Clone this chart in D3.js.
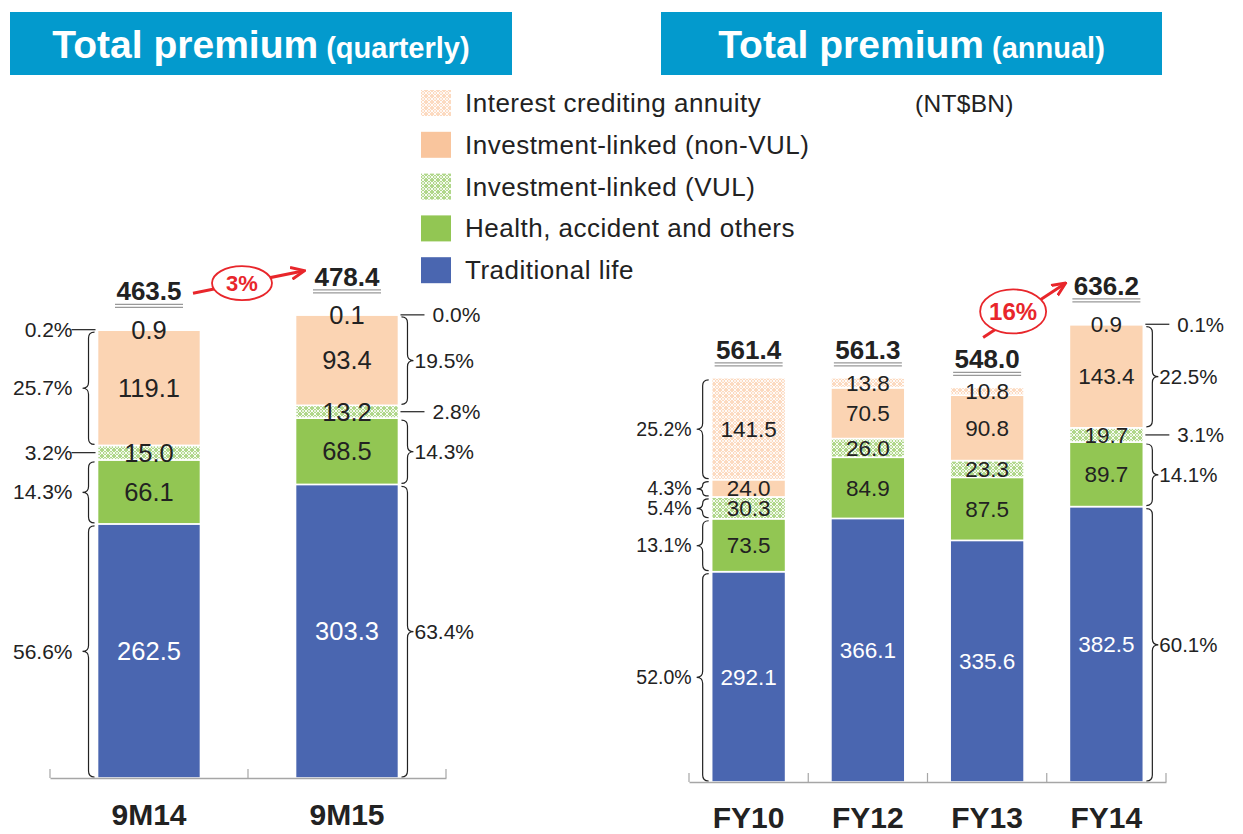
<!DOCTYPE html>
<html><head><meta charset="utf-8">
<script src="https://cdn.jsdelivr.net/npm/d3@7"></script>
<style>body{margin:0;background:#fff}svg{display:block;font-family:"Liberation Sans",Arial,sans-serif}</style>
</head><body><svg id="c" width="1243" height="834"></svg>
<script>
// ---------- DATA ----------
const seriesKeys = ["Traditional life","Health, accident and others","Investment-linked (VUL)","Investment-linked (non-VUL)","Interest crediting annuity"];
const legendOrder = ["Interest crediting annuity","Investment-linked (non-VUL)","Investment-linked (VUL)","Health, accident and others","Traditional life"];

const quarterCats = ["9M14","9M15"];
const qTraditional = [262.5, 303.3];
const qHealth      = [66.1, 68.5];
const qVUL         = [15.0, 13.2];
const qNonVUL      = [119.1, 93.4];
const qAnnuity     = [0.9, 0.1];
const qTotals      = [463.5, 478.4];
const qGrowth      = "3%";

const annualCats   = ["FY10","FY12","FY13","FY14"];
const aTraditional = [292.1, 366.1, 335.6, 382.5];
const aHealth      = [73.5, 84.9, 87.5, 89.7];
const aVUL         = [30.3, 26.0, 23.3, 19.7];
const aNonVUL      = [24.0, 70.5, 90.8, 143.4];
const aAnnuity     = [141.5, 13.8, 10.8, 0.9];
const aTotals      = [561.4, 561.3, 548.0, 636.2];
const aGrowth      = "16%";

// share labels (bottom→top segment order)
const pct9M14 = [56.6, 14.3, 3.2, 25.7, 0.2];
const pct9M15 = [63.4, 14.3, 2.8, 19.5, 0.0];
const pctFY10 = [52.0, 13.1, 5.4, 4.3, 25.2];
const pctFY14 = [60.1, 14.1, 3.1, 22.5, 0.1];

// ---------- STYLE ----------
const C = {trad:"#4a66b0", health:"#92c653", vul:"#b0d78a", nonvul:"#fbd4b3", ann:"#fcdac0", red:"#e8262b", banner:"#039acd", axis:"#a6a6a6", text:"#222"};
const svg = d3.select("#c");
const defs = svg.append("defs");
function lattice(id, base){
  const p = defs.append("pattern").attr("id",id).attr("patternUnits","userSpaceOnUse").attr("width",6).attr("height",6);
  p.append("rect").attr("width",6).attr("height",6).attr("fill",base);
  p.append("path").attr("d","M0,3 L3,0 L6,3 L3,6 Z").attr("fill","none").attr("stroke","#fff").attr("stroke-width",0.9);
  p.append("circle").attr("cx",3).attr("cy",3).attr("r",0.9).attr("fill","#fff");
}
lattice("pVUL", C.vul);
lattice("pANN", C.ann);
const fills = {"Traditional life":C.trad,"Health, accident and others":C.health,"Investment-linked (VUL)":"url(#pVUL)","Investment-linked (non-VUL)":C.nonvul,"Interest crediting annuity":"url(#pANN)"};
const legendFills = Object.assign({}, fills, {"Investment-linked (non-VUL)":"#f9c59d"});

// ---------- BANNERS ----------
function banner(x, w, main, sub){
  svg.append("rect").attr("x",x).attr("y",12).attr("width",w).attr("height",63).attr("fill",C.banner);
  const t = svg.append("text").attr("x",x+w/2).attr("y",58).attr("text-anchor","middle").attr("fill","#fff").attr("font-weight","bold");
  t.append("tspan").attr("font-size",39).text(main);
  t.append("tspan").attr("font-size",29).text(" "+sub);
}
banner(10, 502, "Total premium", "(quarterly)");
banner(661, 501, "Total premium", "(annual)");

// ---------- LEGEND ----------
const lg = svg.append("g");
legendOrder.forEach((k,i)=>{
  const y = 103 + i*41.8;
  lg.append("rect").attr("x",421).attr("y",y-13).attr("width",30).attr("height",26).attr("fill",legendFills[k]);
  lg.append("text").attr("x",465).attr("y",y+9).attr("font-size",26).attr("letter-spacing",0.5).attr("fill",C.text).text(k);
});
svg.append("text").attr("x",915).attr("y",112).attr("font-size",24.5).attr("letter-spacing",0.3).attr("fill",C.text).text("(NT$BN)");

// ---------- HELPERS ----------
function brace(x, y0, y1, dir, w){
  const h = x + dir*w*0.5, t = x + dir*w, ym = (y0+y1)/2, r = Math.min(6,(y1-y0)/4);
  return `M${x},${y0} Q${h},${y0} ${h},${y0+r} L${h},${ym-r} Q${h},${ym} ${t},${ym} Q${h},${ym} ${h},${ym+r} L${h},${y1-r} Q${h},${y1} ${x},${y1}`;
}

function panel(cats, seriesVals, totals, xr, baseline, pxPerUnit, valFont, labelBaseline){
  const wide = xr[1]-xr[0] > 420;
  const x = d3.scaleBand().domain(cats).range(xr).paddingInner(wide ? 0.38 : 0.48).paddingOuter(wide ? 0.19 : 0.24);
  const y = d3.scaleLinear().domain([0, 700]).range([baseline, baseline - 700*pxPerUnit]);
  const rows = cats.map((c,i)=>{ const o={cat:c}; seriesKeys.forEach((k,j)=>o[k]=seriesVals[j][i]); return o; });
  const stacked = d3.stack().keys(seriesKeys)(rows);
  const g = svg.append("g");
  stacked.forEach(layer=>{
    g.selectAll(null).data(layer).join("rect")
      .attr("x",d=>x(d.data.cat)).attr("width",x.bandwidth())
      .attr("y",d=>y(d[1])).attr("height",d=>Math.max(0,y(d[0])-y(d[1])))
      .attr("fill",fills[layer.key]).attr("stroke","#fff").attr("stroke-width",1.6);
  });
  stacked.forEach(layer=>{
    g.selectAll(null).data(layer).join("text")
      .attr("x",d=>x(d.data.cat)+x.bandwidth()/2).attr("y",d=>(y(d[0])+y(d[1]))/2)
      .attr("dy","0.36em").attr("text-anchor","middle").attr("font-size",valFont)
      .attr("fill", layer.key==="Traditional life" ? "#fff" : C.text)
      .text(d=>(d[1]-d[0]).toFixed(1));
  });
  // axis
  const axis = d3.axisBottom(x).tickSize(0).tickSizeOuter(0).tickFormat("");
  const ag = g.append("g").attr("transform",`translate(0,${baseline})`).call(axis);
  ag.select(".domain").attr("stroke",C.axis).attr("stroke-width",1.5);
  const bounds = d3.range(cats.length+1).map(i=>xr[0] + i*x.step());
  g.selectAll(null).data(bounds).join("line").attr("x1",d=>d).attr("x2",d=>d)
    .attr("y1",baseline-9).attr("y2",baseline).attr("stroke",C.axis).attr("stroke-width",1.2);
  g.selectAll(null).data(cats).join("text").attr("x",d=>x(d)+x.bandwidth()/2).attr("y",labelBaseline)
    .attr("text-anchor","middle").attr("font-size",30).attr("font-weight","bold").attr("fill",C.text).text(d=>d);
  // totals
  totals.forEach((t,i)=>{
    const top = y(t), small = seriesVals[4][i] < 2;
    const by = top - (small ? 29 : 19), cx = x(cats[i]) + x.bandwidth()/2;
    g.append("text").attr("x",cx).attr("y",by).attr("text-anchor","middle").attr("font-size",26).attr("font-weight","bold").attr("fill",C.text).text(t.toFixed(1));
    [4,7].forEach(o=>g.append("line").attr("x1",cx-34).attr("x2",cx+34).attr("y1",by+o).attr("y2",by+o).attr("stroke","#999").attr("stroke-width",1.3));
  });
  return {x, y, stacked};
}

const L = panel(quarterCats, [qTraditional,qHealth,qVUL,qNonVUL,qAnnuity], qTotals, [50,446], 778, 0.968, 25.5, 825);
const R = panel(annualCats, [aTraditional,aHealth,aVUL,aNonVUL,aAnnuity], aTotals, [689,1166], 782, 0.72, 22.5, 828);

function shares(P, cat, pcts, side, textGap, fs){
  const i = P.x.domain().indexOf(cat);
  const edge = side<0 ? P.x(cat) : P.x(cat)+P.x.bandwidth();
  const g = svg.append("g");
  P.stacked.forEach((layer,j)=>{
    const d = layer[i], y0 = P.y(d[1]), y1 = P.y(d[0]), h = y1-y0, ym = (y0+y1)/2;
    const label = pcts[j].toFixed(1)+"%";
    const anchor = side<0?"end":"start";
    if (h >= 15){
      const bx = edge + side*3;
      g.append("path").attr("d",brace(bx, y0+2, y1-1, side, 12)).attr("fill","none").attr("stroke","#222").attr("stroke-width",1.2);
      g.append("text").attr("x",edge+side*textGap).attr("y",ym).attr("dy","0.36em")
        .attr("text-anchor",anchor).attr("font-size",fs).attr("fill",C.text).text(label);
    } else {
      g.append("line").attr("x1",edge+side*2).attr("x2",edge+side*26).attr("y1",ym).attr("y2",ym).attr("stroke","#222").attr("stroke-width",1.2);
      g.append("text").attr("x",edge+side*(side<0?textGap:34)).attr("y",ym).attr("dy","0.36em")
        .attr("text-anchor",anchor).attr("font-size",fs).attr("fill",C.text).text(label);
    }
  });
}
shares(L, "9M14", pct9M14, -1, 25, 21);
shares(L, "9M15", pct9M15, 1, 16, 21);
shares(R, "FY10", pctFY10, -1, 20, 19.5);
shares(R, "FY14", pctFY14, 1, 16, 20.5);

// ---------- GROWTH ANNOTATIONS ----------
defs.append("marker").attr("id","ah").attr("viewBox","0 0 10 10").attr("refX",8).attr("refY",5)
  .attr("markerWidth",5).attr("markerHeight",5).attr("orient","auto")
  .append("path").attr("d","M0,1 L9,5 L0,9").attr("fill","none").attr("stroke",C.red).attr("stroke-width",2);
function growth(x0,y0,x1,y1,cx,cy,rx,ry,label,fs){
  svg.append("line").attr("x1",x0).attr("y1",y0).attr("x2",x1).attr("y2",y1).attr("stroke",C.red).attr("stroke-width",3).attr("marker-end","url(#ah)");
  svg.append("ellipse").attr("cx",cx).attr("cy",cy).attr("rx",rx).attr("ry",ry).attr("fill","#fff").attr("stroke",C.red).attr("stroke-width",1.8);
  svg.append("text").attr("x",cx).attr("y",cy).attr("dy","0.36em").attr("text-anchor","middle").attr("font-size",fs).attr("font-weight","bold").attr("fill",C.red).text(label);
}
{
  const ax0 = L.x("9M14")+L.x.bandwidth()/2+44, ay0 = L.y(qTotals[0])-36;
  const ax1 = L.x("9M15")+L.x.bandwidth()/2-44, ay1 = L.y(qTotals[1])-44;
  growth(ax0, ay0, ax1, ay1, (ax0+ax1)/2-6, (ay0+ay1)/2+1, 30, 17, qGrowth, 22);
  const bx0 = R.x("FY13")+R.x.bandwidth()/2-4, by0 = R.y(aTotals[2])-50;
  const bx1 = R.x("FY14")+R.x.bandwidth()/2-42, by1 = R.y(aTotals[3])-40;
  growth(bx0, by0, bx1, by1, bx0+30, by0-26, 33, 22, aGrowth, 24);
}
</script></body></html>
